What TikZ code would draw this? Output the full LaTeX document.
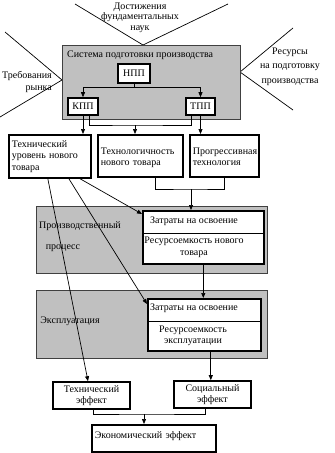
\documentclass[tikz,border=0pt]{standalone}
\usepackage{fontspec}
\setmainfont{Liberation Serif}
\usetikzlibrary{arrows.meta}
\definecolor{panelgray}{RGB}{192,192,192}

\begin{document}
\begin{tikzpicture}[x=1pt, y=-1pt,
    font=\fontsize{10}{11.5}\selectfont,
    panel/.style={draw=black!75, fill=panelgray, line width=0.8pt, anchor=north west},
    unit/.style={draw, fill=white, line width=1.6pt, inner sep=3pt},
    txt/.style={inner sep=0pt},
    link/.style={line width=0.7pt},
    arr/.style={link, -{Triangle[length=5pt,width=4pt]}}]
    \useasboundingbox (0,0) rectangle (335,453);

    % Draw outside influences
    \coordinate (apexT) at (143,45);
    \coordinate (apexL) at (62,80);
    \coordinate (apexR) at (240,72);
    \coordinate (endTL) at (75,4);
    \coordinate (endTR) at (228,4);
    \coordinate (endLT) at (5,32);
    \coordinate (endLB) at (0,117);
    \coordinate (endRT) at (293,28);
    \coordinate (endRB) at (293,110);
    \draw[link] (endTL) -- (apexT) -- (endTR);
    \draw[link] (endLT) -- (apexL) -- (endLB);
    \draw[link] (endRT) -- (apexR) -- (endRB);
    \node[txt, align=center, font=\fontsize{10}{10.5}\selectfont] (fund) at (140,17.5) {Достижения\\фундаментальных\\наук};
    \node[txt, align=right, anchor=east] (market) at (52,82) {Требования\\рынка};
    \node[txt, align=center, font=\fontsize{10}{14.5}\selectfont] (res) at (290,66.5) {Ресурсы\\на подготовку\\производства};

    % Draw preparation system
    \node[panel, minimum width=178pt, minimum height=74pt] (spp) at (62,45) {};
    \node[txt, anchor=west] (spptitle) at (67,55) {Система подготовки производства};
    \node[unit, minimum width=32pt, minimum height=19pt] (npp) at (134,73.5) {НПП};
    \node[unit, minimum width=30pt, minimum height=17pt] (kpp) at (83,106.5) {КПП};
    \node[unit, minimum width=29pt, minimum height=17pt] (tpp) at (200.5,106.5) {ТПП};
    \draw[arr] (npp.south) -- ++(0,4) -| (kpp.north);
    \draw[arr] (npp.south) -- ++(0,4) -| (tpp.north);

    % Draw new product factors
    \node[unit, anchor=north west, text width=76pt, align=left, minimum height=43pt] (tech) at (8,134) {Технический\\уровень нового\\товара};
    \node[unit, anchor=north west, text width=79pt, align=left, minimum height=42pt, text depth=10pt] (techn) at (97,134) {Технологичность\\нового товара};
    \node[unit, anchor=north west, text width=63pt, align=left, minimum height=42pt, text depth=10pt] (prog) at (189,134) {Прогрессивная\\технология};
    \coordinate (kppR) at ([xshift=6]kpp.south);
    \coordinate (tppL) at ([xshift=-9.5]tpp.south);
    \coordinate (mrg1) at (135,125);
    \draw[arr] (kpp.south) -- (kpp.south |- tech.north);
    \draw[arr] (tpp.south) -- (tpp.south |- prog.north);
    \draw[link] (kppR) |- (mrg1) -| (tppL);
    \draw[arr] (mrg1) -- (mrg1 |- techn.north);

    % Draw production process
    \node[panel, minimum width=231pt, minimum height=67pt] (proc) at (36,206) {};
    \node[txt] (proclbl) at (80,226) {Производственный};
    \node[txt] (proclbl2) at (63,248) {процесс};
    \node[unit, anchor=north west, minimum width=121pt, minimum height=53pt] (osv1) at (142,210) {};
    \draw[link] ([yshift=-23]osv1.north west) -- ([yshift=-23]osv1.north east);
    \node[txt] (cost1) at (194,221) {Затраты на освоение};
    \node[txt, align=center] (rint1) at (194,247.5) {Ресурсоемкость нового\\товара};
    \coordinate (techn2) at ([xshift=15]techn.south);
    \coordinate (mrg2) at (191,189);
    \draw[link] (techn2) |- (mrg2) -| (prog.south);
    \draw[arr] (mrg2) -- (mrg2 |- osv1.north);

    % Draw exploitation
    \node[panel, minimum width=231pt, minimum height=68pt] (expl) at (36,290) {};
    \node[txt] (expllbl) at (70,321) {Эксплуатация};
    \node[unit, anchor=north west, minimum width=113pt, minimum height=52pt] (osv2) at (147,298) {};
    \draw[link] ([yshift=-23]osv2.north west) -- ([yshift=-23]osv2.north east);
    \node[txt] (cost2) at (194,308) {Затраты на освоение};
    \node[txt, align=center] (rint2) at (193,336) {Ресурсоемкость\\эксплуатации};
    \draw[arr] (osv1.south) -- (osv1.south |- osv2.north);

    % Draw effects
    \node[unit, minimum width=77pt, minimum height=27pt, align=center] (teff) at (91.5,395.5) {Технический\\эффект};
    \node[unit, minimum width=77pt, minimum height=27pt, align=center] (soc) at (212.5,394.5) {Социальный\\эффект};
    \node[unit, anchor=north west, text width=118pt, align=left, minimum height=27pt, text depth=7pt] (econ) at (91,424) {Экономический эффект};
    \coordinate (o2s) at ([xshift=6.5]osv2.south);
    \draw[arr] (o2s) -- (o2s |- soc.north);
    \coordinate (teffB) at ([xshift=1.5]teff.south);
    \coordinate (socB) at ([xshift=-7.5]soc.south);
    \coordinate (mrg3) at (144,414);
    \draw[link] (teffB) |- (mrg3) -| (socB);
    \draw[arr] (mrg3) -- (mrg3 |- econ.north);

    % Draw links from technical level
    \draw[arr] ([xshift=-2]tech.south) -- ([xshift=-3.5]teff.north);
    \draw[arr] ([xshift=19]tech.south) -- ([yshift=-6]osv2.north west);
    \draw[arr] ([xshift=30]tech.south) -- ([yshift=-4]osv1.north west);
\end{tikzpicture}
\end{document}
